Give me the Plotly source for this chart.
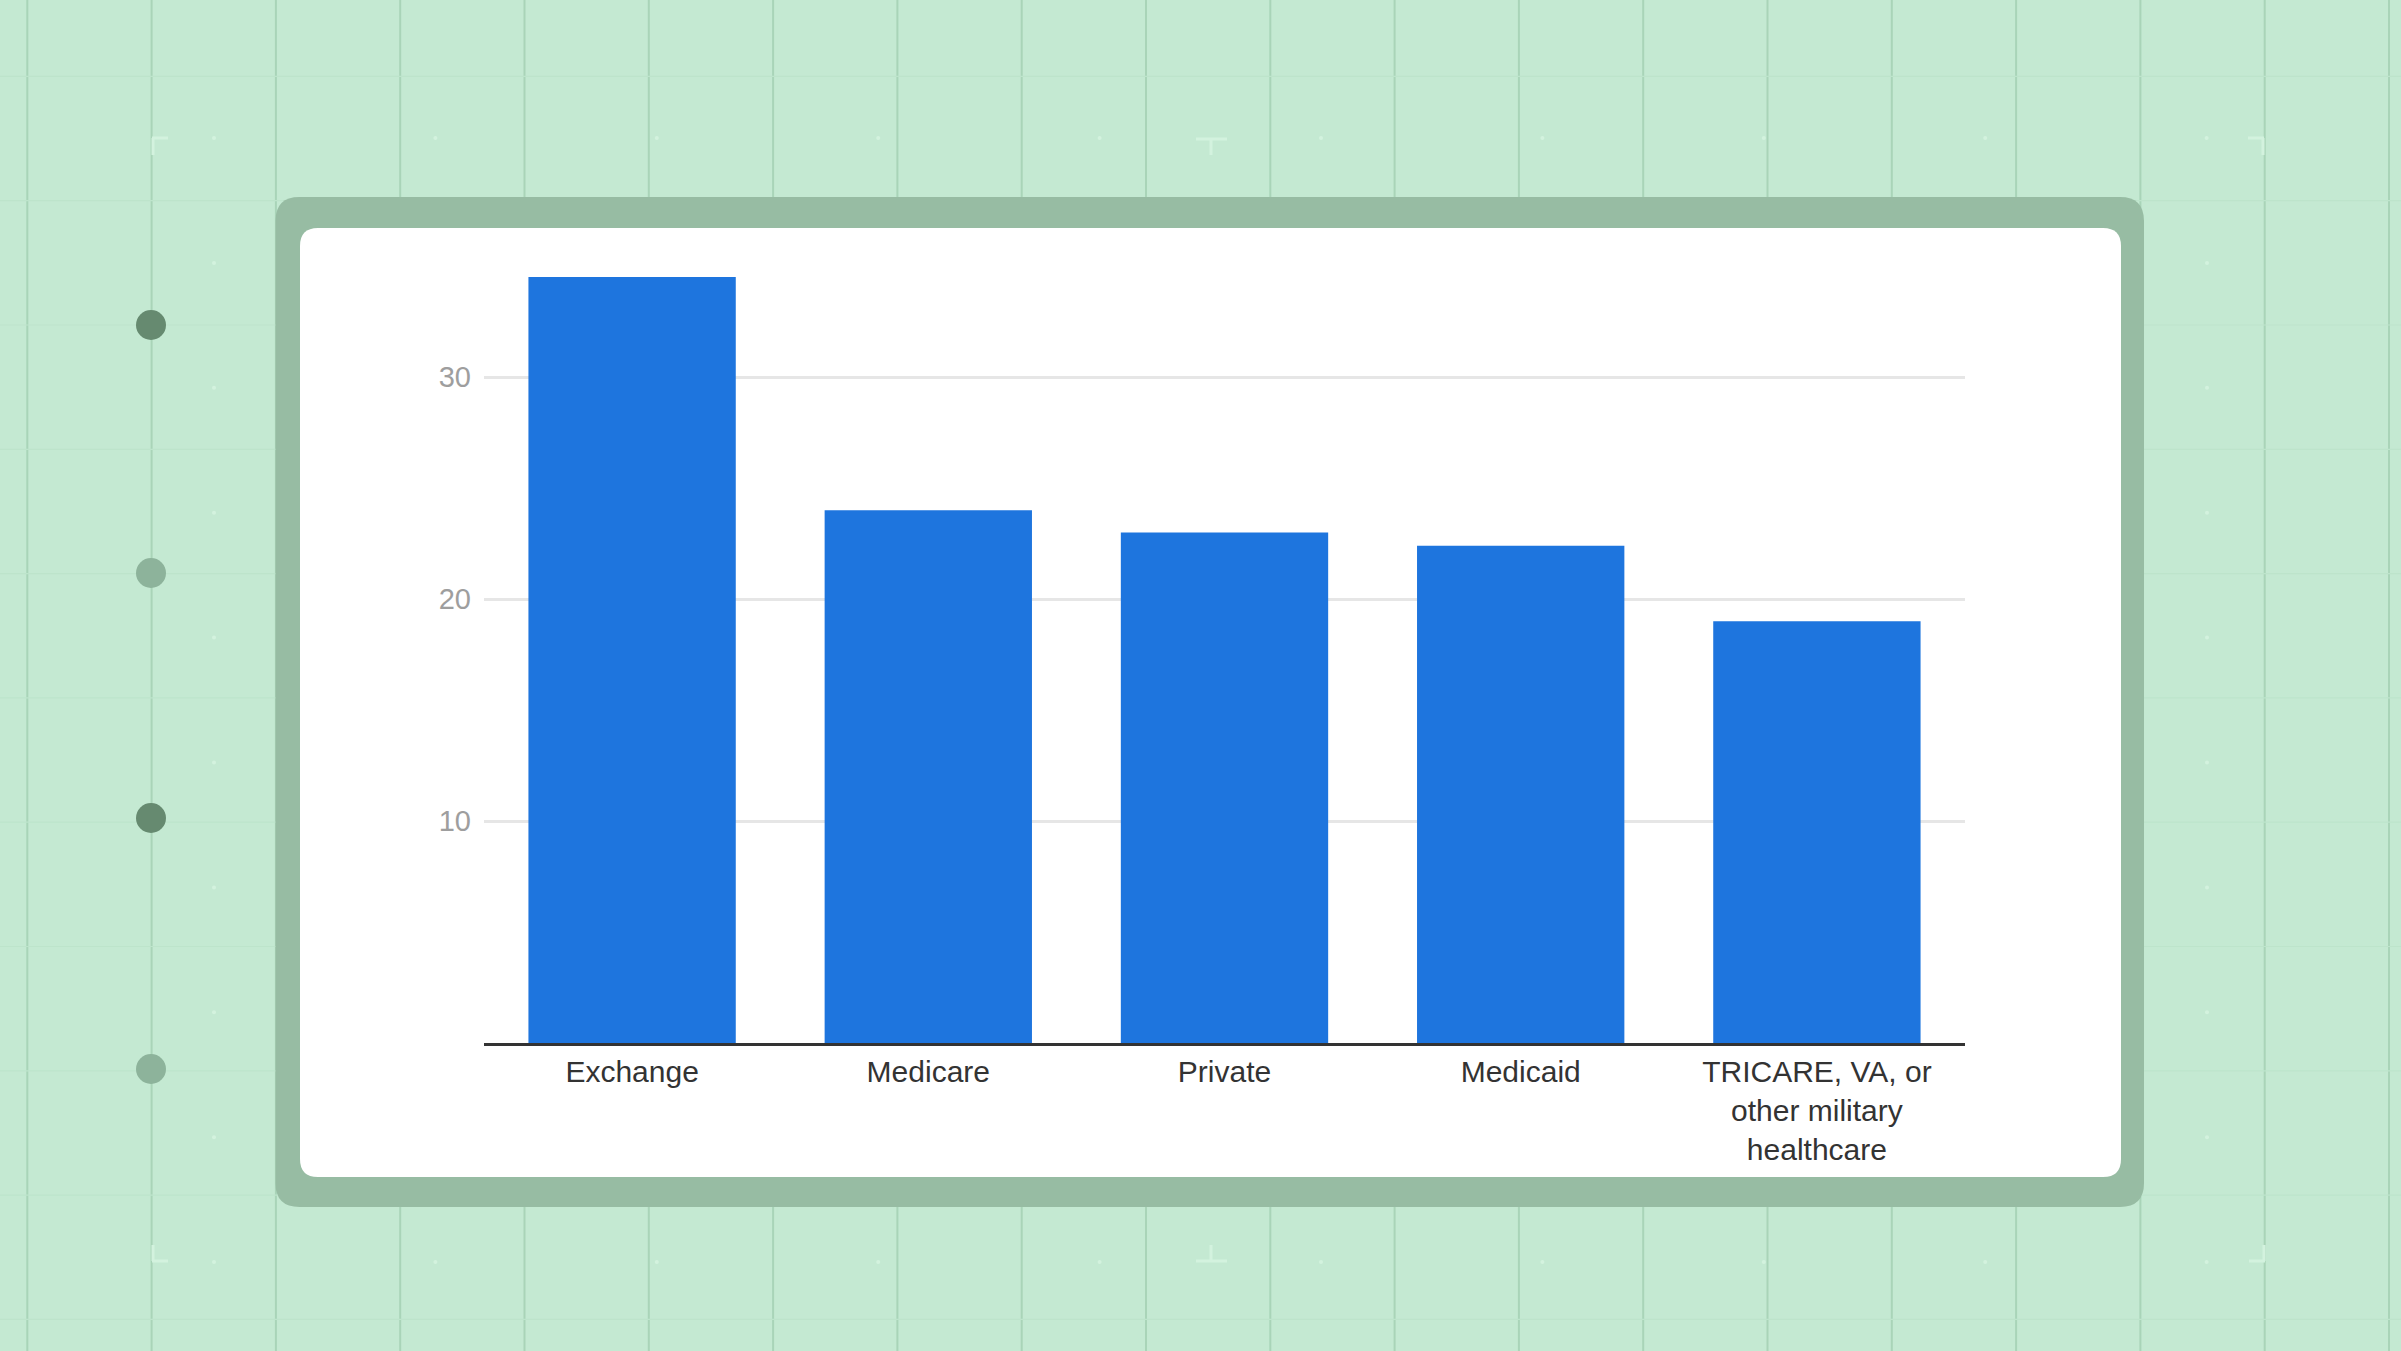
#!/usr/bin/env python3

import plotly.graph_objects as go

W, H = 2401, 1351

# chart data
categories = ["Exchange", "Medicare", "Private", "Medicaid",
              "TRICARE, VA, or<br>other military<br>healthcare"]
values = [34.5, 24.0, 23.0, 22.4, 19.0]
y_ticks = [10, 20, 30]

BG = "#c4e9d2"
GRID_V = "#a9d4b8"
GRID_H = "#bde4cb"
MARK = "#d3f2de"
FRAME = "#97bca3"
BAR = "#1e75de"


# pixel -> paper helpers (margins are 0, so paper == whole figure)
def px(x):
    return x / W


def py(y):
    return 1 - y / H


def rrect_path(x0, y0, x1, y1, r):
    pts = [
        ("M", [(x0 + r, y0)]),
        ("L", [(x1 - r, y0)]),
        ("Q", [(x1, y0), (x1, y0 + r)]),
        ("L", [(x1, y1 - r)]),
        ("Q", [(x1, y1), (x1 - r, y1)]),
        ("L", [(x0 + r, y1)]),
        ("Q", [(x0, y1), (x0, y1 - r)]),
        ("L", [(x0, y0 + r)]),
        ("Q", [(x0, y0), (x0 + r, y0)]),
    ]
    out = ""
    for cmd, plist in pts:
        out += cmd + " ".join("%.5f,%.5f" % (px(a), py(b)) for a, b in plist) + " "
    return out + "Z"


def line(x0, y0, x1, y1, color, width):
    return dict(type="line", xref="paper", yref="paper", layer="below",
                x0=px(x0), y0=py(y0), x1=px(x1), y1=py(y1),
                line=dict(color=color, width=width))


def dot(cx, cy, r, color):
    return dict(type="circle", xref="paper", yref="paper", layer="below",
                x0=px(cx - r), y0=py(cy - r), x1=px(cx + r), y1=py(cy + r),
                fillcolor=color, line=dict(width=0))


shapes = []

# background grid
for k in range(-1, 19):
    x = 151.6 + 124.3 * k
    shapes.append(line(x, 0, x, H, GRID_V, 2))
for k in range(0, 11):
    y = 76.4 + 124.3 * k
    shapes.append(line(0, y, W, y, GRID_H, 1.2))

# faint guide dots
for k in range(10):
    x = 214 + 221.4 * k
    shapes.append(dot(x, 138, 2, MARK))
    shapes.append(dot(x, 1262, 2, MARK))
for k in range(1, 9):
    y = 138 + 124.9 * k
    shapes.append(dot(214, y, 2, MARK))
    shapes.append(dot(2207, y, 2, MARK))

# crop marks
shapes += [
    line(152, 138, 168, 138, MARK, 3), line(153, 138, 153, 155, MARK, 3),
    line(1196, 139, 1227, 139, MARK, 3), line(1211, 139, 1211, 155, MARK, 3),
    line(2248, 138, 2264, 138, MARK, 3), line(2263, 138, 2263, 155, MARK, 3),
    line(152, 1261, 168, 1261, MARK, 3), line(153, 1245, 153, 1261, MARK, 3),
    line(1196, 1261, 1227, 1261, MARK, 3), line(1211, 1245, 1211, 1261, MARK, 3),
    line(2249, 1261, 2265, 1261, MARK, 3), line(2264, 1245, 2264, 1261, MARK, 3),
]

# left side dots
shapes += [
    dot(151, 325, 15, "#668a70"),
    dot(151, 573, 15, "#8db39b"),
    dot(151, 818, 15, "#668a70"),
    dot(151, 1069, 15, "#8db39b"),
]

# frame and white card
shapes.append(dict(type="path", xref="paper", yref="paper", layer="below",
                   path=rrect_path(275.5, 197, 2144, 1207, 24),
                   fillcolor=FRAME, line=dict(width=0)))
shapes.append(dict(type="path", xref="paper", yref="paper", layer="below",
                   path=rrect_path(300, 228, 2121, 1177, 18),
                   fillcolor="#ffffff", line=dict(width=0)))

fig = go.Figure(go.Bar(x=categories, y=values, marker_color=BAR,
                       marker_line_width=0, hoverinfo="skip"))

fig.update_layout(
    width=W, height=H,
    margin=dict(l=0, r=0, t=0, b=0),
    paper_bgcolor=BG,
    plot_bgcolor="rgba(0,0,0,0)",
    showlegend=False,
    bargap=0.3,
    font=dict(family="Liberation Sans, Arial, sans-serif"),
    shapes=shapes,
    xaxis=dict(
        domain=[484 / W, 1965 / W],
        showline=True, linecolor="#333333", linewidth=3,
        showgrid=False, ticks="", automargin=False,
        tickfont=dict(size=30, color="#333333"),
    ),
    yaxis=dict(
        domain=[1 - 1043 / H, 1 - 266 / H],
        range=[0, 35], tickvals=y_ticks,
        showgrid=True, gridcolor="#e6e6e6", gridwidth=2.5,
        zeroline=False, showline=False, ticks="", automargin=False,
        ticklabelstandoff=12,
        tickfont=dict(size=29, color="#9e9e9e"),
    ),
)

# page has a default 8px body margin; drop it so the figure fills the window
fig.write_html("out.html", config={"displayModeBar": False},
               post_script="document.body.style.margin='0';")
